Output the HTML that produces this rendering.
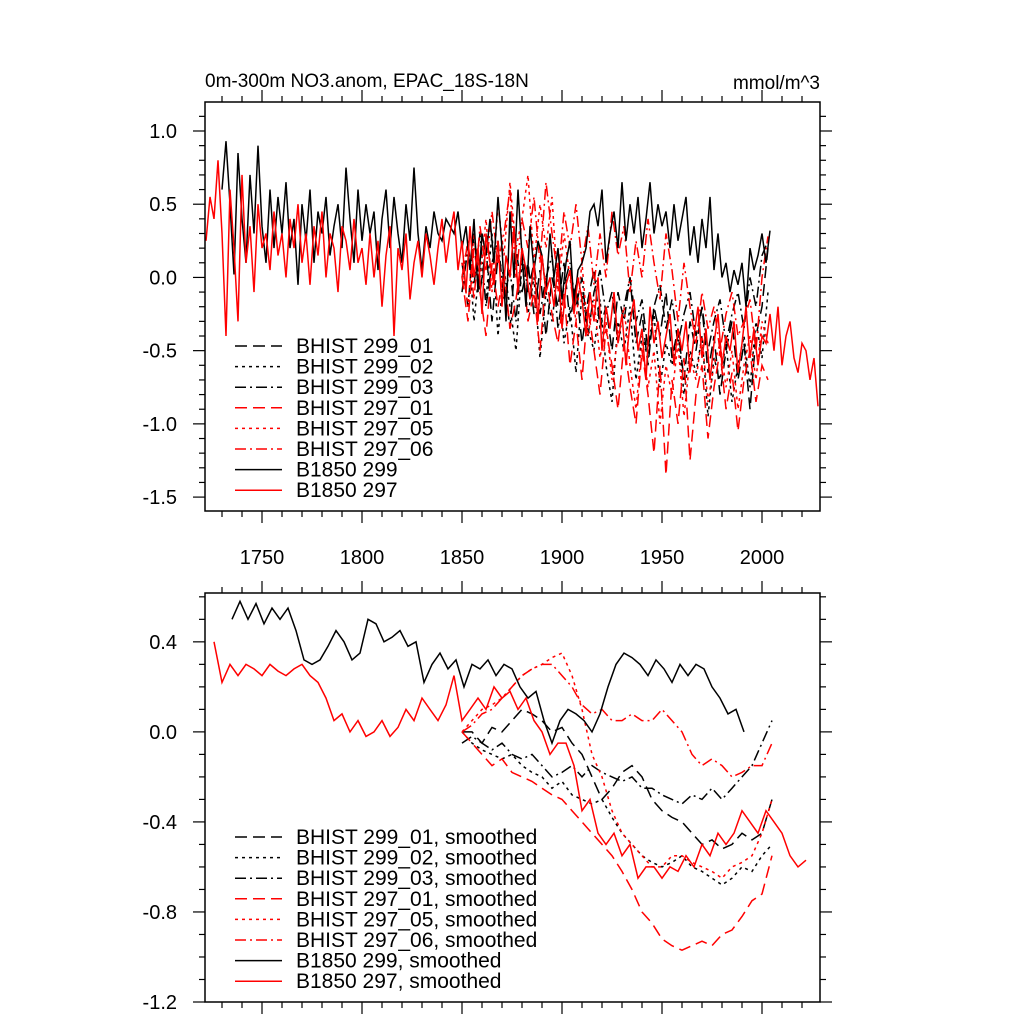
<!DOCTYPE html>
<html><head><meta charset="utf-8">
<style>
html,body{margin:0;padding:0;background:#fff;}
svg{display:block;font-family:"Liberation Sans",sans-serif;}
</style></head>
<body>
<svg id="chart" width="1024" height="1024" viewBox="0 0 1024 1024" xmlns="http://www.w3.org/2000/svg">
<text x="205" y="87" font-size="19">0m-300m NO3.anom, EPAC_18S-18N</text>
<text x="820" y="89" font-size="19" text-anchor="end">mmol/m^3</text>
<g id="top"></g>
<g id="bot"></g>
</svg>
<script>
const xTickLabels=["1750","1800","1850","1900","1950","2000"];
const topYTicks=[1.0,0.5,0.0,-0.5,-1.0,-1.5];
const botYTicks=[0.4,0.0,-0.4,-0.8,-1.2];
const topNames=["BHIST 299_01","BHIST 299_02","BHIST 299_03","BHIST 297_01","BHIST 297_05","BHIST 297_06","B1850 299","B1850 297"];
const botNames=["BHIST 299_01, smoothed","BHIST 299_02, smoothed","BHIST 299_03, smoothed","BHIST 297_01, smoothed","BHIST 297_05, smoothed","BHIST 297_06, smoothed","B1850 299, smoothed","B1850 297, smoothed"];

const b299=[0.6,0.93,0.5,0.02,0.85,0.4,0.1,0.7,0.3,0.9,0.35,0.1,0.6,0.2,0.55,0.3,0.65,0.2,0.4,-0.05,
0.5,0.25,0.6,0.1,0.45,0.3,0.55,0.15,0.35,0.5,0.2,0.75,0.4,0.1,0.6,0.25,0.5,0.3,0.45,0.05,
0.4,0.6,0.2,0.55,0.3,0.1,0.5,0.25,0.75,0.3,0.05,0.35,0.2,0.45,0.3,0.25,0.4,0.35,0.3,0.45,
0.2,0.35,0.05,0.4,-0.1,0.3,0.15,0.4,0.1,0.55,0.2,-0.3,0.45,0.0,0.6,0.15,-0.2,0.35,0.05,0.25,
0.15,-0.1,0.3,0.0,0.2,-0.15,0.1,0.25,-0.2,0.05,0.1,0.2,0.45,0.5,0.35,0.6,0.1,0.3,0.45,0.2,
0.65,0.25,0.5,0.3,0.55,0.2,0.4,0.65,0.3,0.5,0.35,0.45,0.2,0.5,0.25,0.4,0.55,0.15,0.35,0.1,
0.4,0.2,0.55,0.05,0.3,0.0,0.1,-0.1,0.05,-0.05,0.1,-0.2,0.2,0.05,0.15,0.3,0.1,0.32];
const b297=[0.25,0.55,0.4,0.8,0.3,-0.4,0.6,0.2,-0.3,0.7,0.1,0.35,-0.1,0.5,0.2,0.3,0.05,0.45,0.15,0.3,
0.0,0.4,0.2,0.5,0.1,0.3,-0.05,0.35,0.15,0.45,0.0,0.3,0.2,-0.1,0.35,0.25,0.05,0.4,0.1,0.2,
-0.05,0.3,0.0,0.25,-0.2,0.15,0.35,-0.4,0.2,0.05,0.3,-0.15,0.1,0.25,0.0,0.3,0.15,-0.05,0.2,0.4,
0.1,0.3,0.45,0.05,0.25,-0.1,0.35,0.0,0.2,-0.25,0.3,0.1,-0.05,0.25,-0.2,0.15,0.0,0.35,-0.1,0.2,
0.05,-0.15,0.1,-0.3,0.15,-0.1,0.0,-0.2,0.1,-0.35,-0.05,0.05,-0.25,0.0,-0.15,-0.4,-0.1,-0.3,0.0,-0.5,
-0.2,-0.35,-0.1,-0.45,-0.25,-0.6,-0.3,-0.15,-0.5,-0.35,-0.7,-0.2,-0.45,-0.3,-0.55,-0.4,-0.25,-0.6,-0.35,-0.5,
-0.3,-0.65,-0.4,-0.2,-0.55,-0.35,-0.7,-0.45,-0.25,-0.6,-0.4,-0.5,-0.3,-0.65,-0.45,-0.2,-0.55,-0.35,-0.6,-0.4,
-0.45,-0.25,-0.5,-0.2,-0.6,-0.4,-0.3,-0.55,-0.65,-0.45,-0.5,-0.7,-0.55,-0.88];
const h299_01=[0.1,-0.2,0.3,-0.1,0.2,-0.3,0.15,0.0,-0.35,0.2,-0.1,0.1,-0.25,0.05,-0.4,0.0,-0.2,0.1,-0.3,-0.05,-0.45,-0.15,0.05,-0.35,-0.2,-0.5,-0.1,-0.3,0.0,-0.45,-0.25,-0.6,-0.2,-0.4,-0.1,-0.55,-0.35,-0.7,-0.3,-0.5,-0.2,-0.65,-0.4,-0.8,-0.5,-0.3,-0.7,-0.45,-0.9,-0.4,-0.2,0.2];
const h299_02=[0.0,0.25,-0.3,0.1,-0.15,0.3,-0.4,0.05,-0.2,-0.5,0.1,-0.25,0.0,-0.55,-0.1,-0.3,0.05,-0.45,-0.2,-0.65,-0.1,-0.35,-0.5,-0.15,-0.6,-0.85,-0.3,-0.5,-0.2,-0.7,-0.4,-0.55,-0.25,-0.75,-0.45,-0.6,-0.35,-0.8,-0.5,-0.65,-0.4,-0.95,-0.55,-0.7,-0.45,-0.85,-0.6,-0.4,-0.75,-0.3,-0.55,-0.1];
const h299_03=[-0.1,0.2,-0.05,0.3,-0.2,0.1,0.25,-0.15,0.05,-0.3,0.2,-0.1,0.1,-0.25,0.0,0.15,-0.35,-0.05,0.1,-0.2,0.0,-0.4,-0.1,0.05,-0.25,-0.1,-0.45,-0.2,0.0,-0.3,-0.15,-0.5,-0.2,-0.05,-0.35,-0.15,-0.45,-0.25,-0.1,-0.4,-0.2,-0.5,-0.3,-0.15,-0.45,-0.25,-0.1,-0.35,0.0,-0.2,0.15,0.25];
const h297_01=[0.0,-0.3,0.2,-0.1,-0.4,0.1,-0.2,0.05,-0.35,-0.15,0.15,-0.3,-0.1,-0.5,0.0,-0.25,-0.45,-0.1,-0.6,-0.3,-0.7,-0.2,-0.5,-0.8,-0.35,-0.6,-0.9,-0.45,-0.75,-1.0,-0.5,-0.8,-1.2,-0.6,-1.35,-0.7,-1.0,-0.55,-1.25,-0.8,-0.6,-1.1,-0.75,-0.5,-0.9,-0.65,-1.05,-0.7,-0.5,-0.85,-0.6,-0.7];
const h297_05=[0.1,-0.2,0.3,0.0,0.4,-0.1,0.5,0.15,0.65,0.2,0.4,0.7,0.1,0.5,0.2,0.55,-0.1,0.3,0.0,-0.3,0.1,-0.4,-0.15,-0.55,-0.3,-0.7,-0.4,-0.2,-0.6,-0.9,-0.45,-0.75,-0.5,-1.0,-0.6,-0.8,-0.45,-0.95,-0.55,-0.7,-0.4,-0.85,-0.6,-0.45,-0.75,-0.5,-0.9,-0.6,-0.4,-0.7,-0.3,-0.45];
const h297_06=[0.0,0.25,-0.15,0.35,0.05,0.45,0.1,0.3,0.6,0.0,0.4,0.2,0.55,0.1,0.65,0.3,0.0,0.45,0.2,0.5,0.1,0.35,-0.05,0.3,0.0,0.45,0.15,0.35,-0.1,0.25,0.0,0.4,0.1,-0.15,0.3,0.05,-0.3,0.1,-0.2,-0.45,-0.1,-0.35,-0.2,-0.5,-0.25,-0.1,-0.4,-0.3,-0.15,-0.5,0.0,0.28];

const s299_01=[0.0,0.0,-0.05,0.02,0.0,0.05,0.1,0.08,0.05,0.0,0.02,-0.05,-0.1,-0.2,-0.3,-0.25,-0.18,-0.15,-0.2,-0.3,-0.35,-0.38,-0.4,-0.45,-0.5,-0.48,-0.52,-0.5,-0.45,-0.48,-0.45,-0.3];
const s299_02=[0.0,-0.05,-0.08,-0.1,-0.12,-0.1,-0.15,-0.18,-0.2,-0.25,-0.22,-0.28,-0.3,-0.32,-0.3,-0.38,-0.45,-0.5,-0.55,-0.58,-0.6,-0.58,-0.55,-0.6,-0.62,-0.65,-0.68,-0.65,-0.6,-0.62,-0.55,-0.5];
const s299_03=[-0.05,-0.02,-0.05,-0.08,-0.05,-0.1,-0.12,-0.1,-0.15,-0.2,-0.18,-0.15,-0.2,-0.15,-0.18,-0.2,-0.22,-0.2,-0.25,-0.25,-0.28,-0.3,-0.32,-0.28,-0.3,-0.25,-0.3,-0.25,-0.2,-0.15,-0.05,0.05];
const s297_01=[0.0,-0.05,-0.1,-0.15,-0.12,-0.18,-0.2,-0.22,-0.25,-0.28,-0.3,-0.35,-0.4,-0.45,-0.5,-0.55,-0.62,-0.7,-0.8,-0.85,-0.92,-0.95,-0.97,-0.95,-0.93,-0.95,-0.9,-0.88,-0.82,-0.75,-0.72,-0.55];
const s297_05=[0.0,0.05,0.1,0.12,0.15,0.2,0.25,0.28,0.3,0.33,0.35,0.25,0.1,-0.1,-0.2,-0.35,-0.45,-0.5,-0.55,-0.6,-0.6,-0.55,-0.55,-0.58,-0.6,-0.62,-0.65,-0.6,-0.58,-0.55,-0.45,-0.3];
const s297_06=[0.0,0.03,0.08,0.1,0.15,0.2,0.25,0.28,0.3,0.3,0.25,0.2,0.12,0.08,0.1,0.05,0.05,0.08,0.05,0.05,0.1,0.05,0.0,-0.1,-0.15,-0.12,-0.15,-0.2,-0.18,-0.15,-0.15,-0.05];
const s299=[0.5,0.58,0.5,0.57,0.48,0.55,0.5,0.55,0.45,0.32,0.3,0.32,0.38,0.45,0.4,0.32,0.35,0.5,0.48,0.4,0.42,0.45,0.38,0.4,0.22,0.3,0.35,0.28,0.32,0.2,0.3,0.28,0.32,0.25,0.3,0.28,0.2,0.15,0.18,0.05,-0.05,0.05,0.1,0.08,0.05,0.0,0.08,0.2,0.3,0.35,0.33,0.3,0.25,0.32,0.28,0.22,0.3,0.25,0.3,0.28,0.2,0.15,0.08,0.1,0.0];
const s297=[0.4,0.22,0.3,0.25,0.3,0.28,0.25,0.3,0.27,0.25,0.28,0.3,0.25,0.22,0.15,0.05,0.08,0.0,0.05,-0.02,0.0,0.05,-0.02,0.02,0.1,0.05,0.15,0.1,0.05,0.12,0.25,0.05,0.1,0.15,0.1,0.2,0.15,0.18,0.1,0.15,0.05,0.0,-0.1,-0.05,-0.05,-0.15,-0.35,-0.3,-0.45,-0.5,-0.45,-0.55,-0.5,-0.65,-0.6,-0.6,-0.65,-0.6,-0.62,-0.55,-0.6,-0.5,-0.55,-0.45,-0.5,-0.45,-0.35,-0.4,-0.45,-0.35,-0.4,-0.45,-0.55,-0.6,-0.57];

const NS="http://www.w3.org/2000/svg";
const X0=205,X1=820;
const xs=yr=>X0+(yr-1721.5)*2;
function mk(parent,tag,attrs){const e=document.createElementNS(NS,tag);for(const k in attrs)e.setAttribute(k,attrs[k]);parent.appendChild(e);return e;}
const styles=[
 {c:"#000",d:"12,6"},{c:"#000",d:"3,4"},{c:"#000",d:"11,4,2,4"},
 {c:"#f00",d:"12,6"},{c:"#f00",d:"3,4"},{c:"#f00",d:"11,4,2,4"},
 {c:"#000",d:""},{c:"#f00",d:""}];

function panel(g,Y0,Y1,vTop,vBot,yTicks,minorStep,showXLabels,series,names,legY){
 const ys=v=>Y0+(vTop-v)/(vTop-vBot)*(Y1-Y0);
 series.forEach((s,i)=>{
  const pts=s.v.map((v,j)=>xs(s.start+j*s.step).toFixed(1)+","+ys(v).toFixed(1)).join(" ");
  const p=mk(g,"polyline",{points:pts,fill:"none",stroke:styles[s.k].c,"stroke-width":"1.5","stroke-dasharray":styles[s.k].d});
  
  
 });
 const f=mk(g,"rect",{x:X0,y:Y0,width:X1-X0,height:Y1-Y0,fill:"none",stroke:"#000","stroke-width":"1.5"});
 
 
 for(let yr=1730;yr<=2020;yr+=10){
  const x=xs(yr),maj=yr%50===0,L=maj?12:6;
  mk(g,"line",{x1:x,y1:Y1,x2:x,y2:Y1+L,stroke:"#000","stroke-width":"1.2"});
  mk(g,"line",{x1:x,y1:Y0,x2:x,y2:Y0-L,stroke:"#000","stroke-width":"1.2"});
 }
 if(showXLabels){xTickLabels.forEach(t=>{
  const tx=mk(g,"text",{x:xs(+t),y:Y1+53,"font-size":"20","text-anchor":"middle"});tx.textContent=t;
  
  
 });}
 const nMin=Math.ceil(vBot/minorStep-1e-6),nMax=Math.floor(vTop/minorStep+1e-6);
 for(let n=nMin;n<=nMax;n++){
  const v=n*minorStep,y=ys(v);
  const maj=yTicks.some(t=>Math.abs(t-v)<1e-6),L=maj?12:6;
  mk(g,"line",{x1:X0,y1:y,x2:X0-L,y2:y,stroke:"#000","stroke-width":"1.2"});
  mk(g,"line",{x1:X1,y1:y,x2:X1+L,y2:y,stroke:"#000","stroke-width":"1.2"});
 }
 yTicks.forEach(t=>{
  const tx=mk(g,"text",{x:177,y:ys(t)+7,"font-size":"20","text-anchor":"end"});tx.textContent=t.toFixed(1);
  
  
 });
 names.forEach((n,i)=>{
  const y=legY+i*20.6;
  const l=mk(g,"line",{x1:235,y1:y,x2:282,y2:y,stroke:styles[i].c,"stroke-width":"1.5","stroke-dasharray":styles[i].d});
  
  
  const tx=mk(g,"text",{x:296,y:y+7,"font-size":"21"});tx.textContent=n;
  
  
 });
}
panel(document.getElementById("top"),102,511,1.198,-1.595,topYTicks,0.1,true,[
 {v:h299_01,start:1850,step:3,k:0},{v:h299_02,start:1850,step:3,k:1},{v:h299_03,start:1850,step:3,k:2},
 {v:h297_01,start:1850,step:3,k:3},{v:h297_05,start:1850,step:3,k:4},{v:h297_06,start:1850,step:3,k:5},
 {v:b299,start:1730,step:2,k:6},{v:b297,start:1722,step:2,k:7}],topNames,346);
panel(document.getElementById("bot"),593,1002,0.617,-1.2,botYTicks,0.1,false,[
 {v:s299_01,start:1850,step:5,k:0},{v:s299_02,start:1850,step:5,k:1},{v:s299_03,start:1850,step:5,k:2},
 {v:s297_01,start:1850,step:5,k:3},{v:s297_05,start:1850,step:5,k:4},{v:s297_06,start:1850,step:5,k:5},
 {v:s299,start:1735,step:4,k:6},{v:s297,start:1726,step:4,k:7}],botNames,837);
</script>
</body></html>
